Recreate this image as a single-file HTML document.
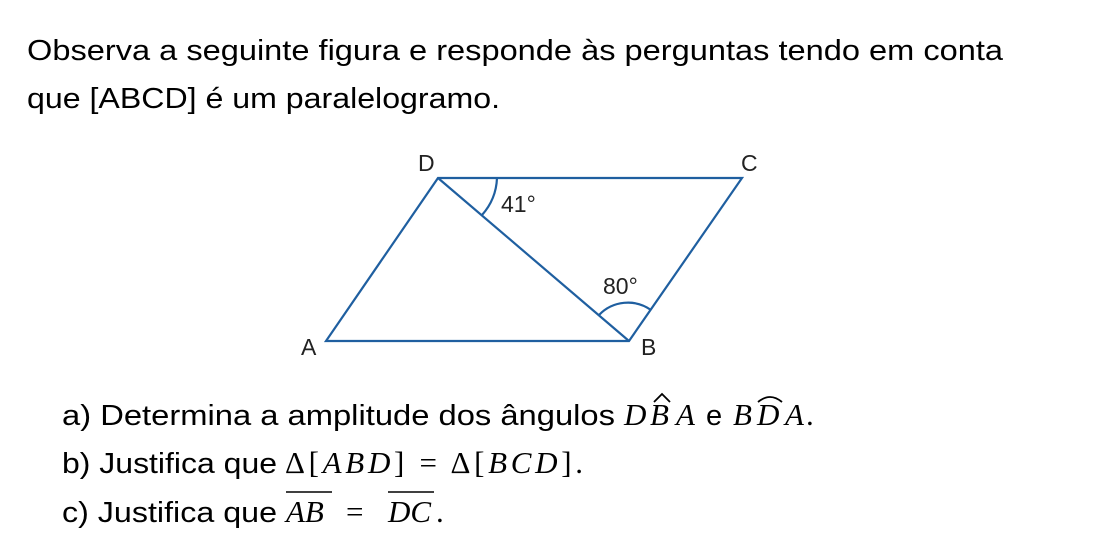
<!DOCTYPE html>
<html><head><meta charset="utf-8"><style>
html,body{margin:0;padding:0;background:#fff;}
svg{display:block}
.t{font-family:"Liberation Sans",sans-serif;font-size:29px;fill:#000}
.m{font-family:"Liberation Serif",serif;font-style:italic;font-size:31px;fill:#000}
.r{font-family:"Liberation Serif",serif;font-size:31px;fill:#000}
.l{font-family:"Liberation Sans",sans-serif;font-size:23px;fill:#222}
</style></head><body>
<svg width="1100" height="556" viewBox="0 0 1100 556" xmlns="http://www.w3.org/2000/svg">
<text class="t" x="27" y="60" textLength="976" lengthAdjust="spacingAndGlyphs">Observa a seguinte figura e responde às perguntas tendo em conta</text>
<text class="t" x="27" y="108" textLength="473" lengthAdjust="spacingAndGlyphs">que [ABCD] é um paralelogramo.</text>

<g stroke="#1f5fa0" stroke-width="2.2" fill="none" stroke-linejoin="miter">
<polygon points="326,341 629,341 742,178 438,178"/>
<line x1="438" y1="178" x2="629" y2="341"/>
<path d="M497,178 A59,59 0 0 1 482,215"/>
<path d="M599,315 A40,40 0 0 1 651,310"/>
</g>
<text class="l" x="418" y="171">D</text>
<text class="l" x="741" y="171">C</text>
<text class="l" x="301" y="355">A</text>
<text class="l" x="641" y="355">B</text>
<text class="l" x="501" y="212">41°</text>
<text class="l" x="603" y="294">80°</text>

<text class="t" x="62" y="425" textLength="553" lengthAdjust="spacingAndGlyphs">a) Determina a amplitude dos ângulos</text>
<text class="m" x="624" y="425">D</text><text class="m" x="650" y="425">B</text><path d="M654,402 L662,394 L670,402" stroke="#000" stroke-width="1.8" fill="none"/><text class="m" x="676" y="425">A</text>
<text class="t" x="706" y="425">e</text>
<text class="m" x="733" y="425">B</text><text class="m" x="757" y="425">D</text><path d="M758,402 Q770,392 782,402" stroke="#000" stroke-width="1.8" fill="none"/><text class="m" x="785" y="425">A</text><text class="r" x="806" y="425">.</text>

<text class="t" x="62" y="473" textLength="215" lengthAdjust="spacingAndGlyphs">b) Justifica que</text>
<text class="r" x="285" y="473" textLength="298" lengthAdjust="spacing">Δ[<tspan class="m">ABD</tspan>] = Δ[<tspan class="m">BCD</tspan>].</text>

<text class="t" x="62" y="522" textLength="215" lengthAdjust="spacingAndGlyphs">c) Justifica que</text>
<line x1="286" y1="492" x2="332" y2="492" stroke="#000" stroke-width="1.6"/>
<text class="m" x="286" y="522">AB</text>
<text class="r" x="346" y="522">=</text>
<line x1="388" y1="492" x2="434" y2="492" stroke="#000" stroke-width="1.6"/>
<text class="m" x="388" y="522">DC</text><text class="r" x="436" y="522">.</text>
</svg>
</body></html>
